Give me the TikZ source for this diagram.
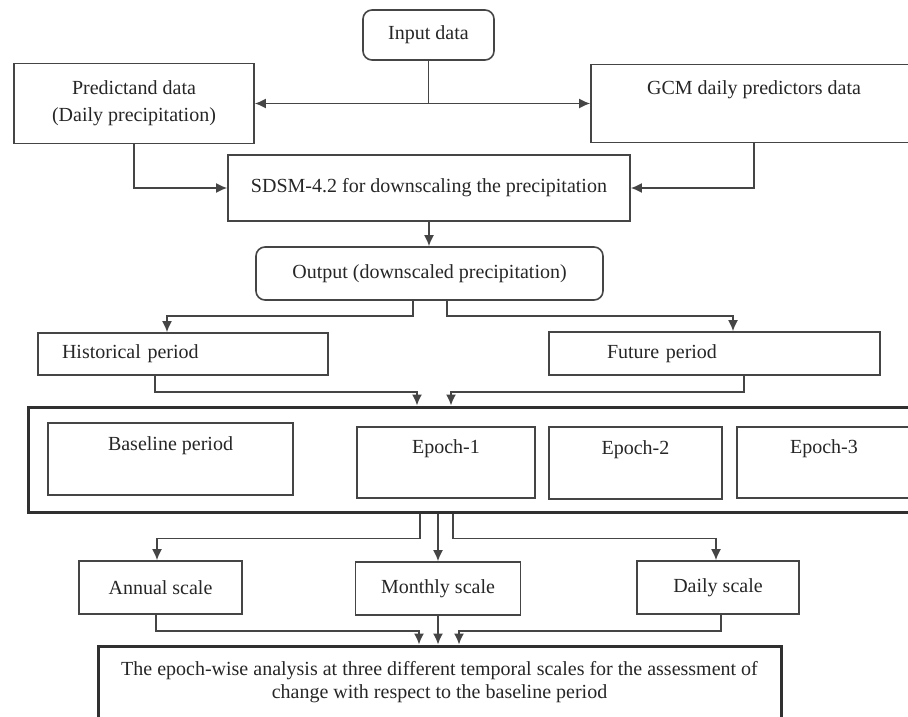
\documentclass[tikz,border=0pt]{standalone}
\usepackage{fontspec}
\setmainfont{Liberation Serif}
\usetikzlibrary{arrows.meta}
\definecolor{ink}{HTML}{262626}
\definecolor{edge}{HTML}{454545}
\definecolor{heavyedge}{HTML}{303030}
\begin{document}
\begin{tikzpicture}[x=1pt,y=-1pt,
  every node/.style={font=\fontsize{20}{24}\selectfont, text=ink},
  box/.style={draw=edge, line width=1.6pt, inner sep=0pt, align=center},
  rbox/.style={box, rounded corners=9pt},
  heavy/.style={draw=heavyedge, line width=3pt, inner sep=0pt, align=center},
  arr/.style={draw=edge, line width=1.6pt, -{Latex[length=11pt,width=10pt]}},
  link/.style={draw=edge, line width=1.6pt},
]
\useasboundingbox (0,0) rectangle (908,717);
\clip (0,0) rectangle (908,717);

% sources
\node[rbox, minimum width=131pt, minimum height=50pt] (input) at (428.5,35) {Input data};
\node[box, minimum width=240pt, minimum height=80pt, font=\fontsize{20}{27}\selectfont] (pred) at (134,103.5) {Predictand data\\(Daily precipitation)};
\node[box, minimum width=326pt, minimum height=78pt] (gcm) at (754,103.5) {GCM daily predictors data\\\strut};

% downscaling
\node[box, minimum width=402pt, minimum height=66pt] (sdsm) at (429,188) {SDSM-4.2 for downscaling the precipitation};
\node[rbox, minimum width=347pt, minimum height=53pt] (out) at (429.5,273.5) {Output (downscaled precipitation)};

% periods
\node[box, text width=242pt, inner xsep=24pt, minimum height=42pt, align=left] (hist) at (183,354) {Historical period};
\node[box, text width=215pt, inner xsep=58pt, minimum height=43pt, align=left] (fut) at (714.5,353.5) {Future period};

% epochs
\node[heavy, minimum width=892pt, minimum height=105pt] (frame) at (474,459.5) {};
\node[box, minimum width=245pt, minimum height=72pt] (base) at (170.5,459) {Baseline period\\\strut};
\node[box, minimum width=178pt, minimum height=71pt] (ep1) at (446,462.5) {Epoch-1\\\strut};
\node[box, minimum width=173pt, minimum height=72pt] (ep2) at (635.5,463) {Epoch-2\\\strut};
\node[box, minimum width=174pt, minimum height=71pt] (ep3) at (824,462.5) {Epoch-3\\\strut};

% temporal scales
\node[box, minimum width=163pt, minimum height=53pt] (ann) at (160.5,587.5) {Annual scale};
\node[box, minimum width=165pt, minimum height=53pt] (mon) at (438,588.5) {Monthly scale};
\node[box, minimum width=162pt, minimum height=53pt] (day) at (718,587.5) {Daily scale};

% analysis
\node[heavy, minimum width=683pt, minimum height=72pt, font=\fontsize{20}{23}\selectfont] (fin) at (439.5,682)
  {The epoch-wise analysis at three different temporal scales for the assessment of\\change with respect to the baseline period};

% connectors
\coordinate (split) at (input.south |- pred.east);
\draw[link] (input.south) -- (split);
\draw[arr] (split) -- (pred.east);
\draw[arr] (split) -- (gcm.west);
\draw[arr] (pred.south) |- (sdsm.west);
\draw[arr] (gcm.south) |- (sdsm.east);
\draw[arr] (sdsm.south) -- (sdsm.south |- out.north);

\draw[arr] ([xshift=-16.5pt]out.south) -- ++(0,15) -| ([xshift=-16pt]hist.north);
\draw[arr] ([xshift=17.5pt]out.south) -- ++(0,15) -| ([xshift=18.5pt]fut.north);
\draw[arr] ([xshift=-28pt]hist.south) -- ++(0,16) -| ([xshift=-57pt]frame.north);
\draw[arr] ([xshift=29.5pt]fut.south) -- ++(0,16) -| ([xshift=-23pt]frame.north);

\draw[arr] ([xshift=-54pt]frame.south) -- ++(0,25) -| ([xshift=-3.5pt]ann.north);
\draw[arr] (frame.south -| mon.north) -- (mon.north);
\draw[arr] ([xshift=-21pt]frame.south) -- ++(0,25) -| ([xshift=-2pt]day.north);

\draw[arr] ([xshift=-4.5pt]ann.south) -- ++(0,16) -| ([xshift=-20.5pt]fin.north);
\draw[arr] (mon.south) -- (mon.south |- fin.north);
\draw[arr] ([xshift=3pt]day.south) -- ++(0,16) -| ([xshift=19.5pt]fin.north);
\end{tikzpicture}
\end{document}
